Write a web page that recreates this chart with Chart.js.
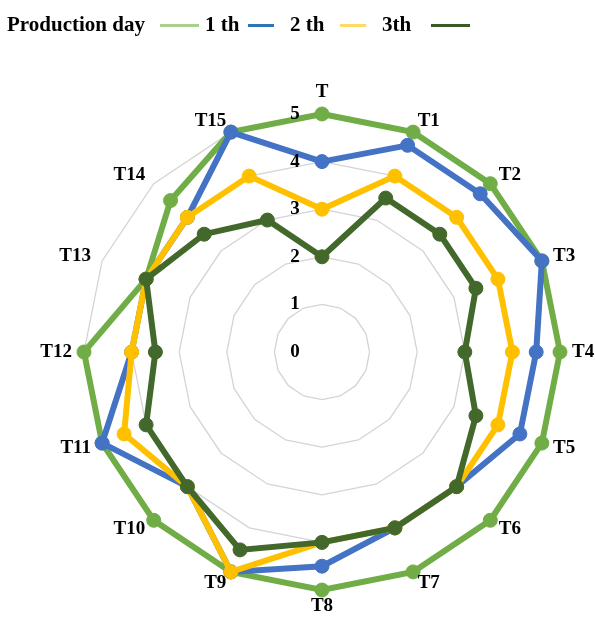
<!DOCTYPE html>
<html>
<head>
<meta charset="utf-8">
<script src="https://cdn.jsdelivr.net/npm/chart.js@4/dist/chart.umd.min.js"></script>
<style>
  body { margin: 0; background: #fff; }
  #wrap { position: relative; width: 595px; height: 620px; }
  #legend { position: absolute; top: 0; left: 0; width: 595px; height: 50px;
            font: bold 21px "Liberation Serif", "Times New Roman", serif; color: #000; }
  #legend span { position: absolute; top: 12px; white-space: nowrap; }
  #legend i { position: absolute; top: 24px; height: 3px; }
  canvas { position: absolute; top: 0; left: 0; }
</style>
</head>
<body>
<div id="wrap">
  <canvas id="radar" width="595" height="620"></canvas>
  <div id="legend"></div>
</div>
<script>
const categories = ["T", "T1", "T2", "T3", "T4", "T5", "T6", "T7", "T8", "T9", "T10", "T11", "T12", "T13", "T14", "T15"];
const seriesNames = ["1 th", "2 th", "3th", ""];
const day1 = [5, 5, 5, 5, 5, 5, 5, 5, 5, 5, 5, 5, 5, 4, 4.5, 5];
const day2 = [4, 4.7, 4.7, 5, 4.5, 4.5, 4, 4, 4.5, 5, 4, 5, 4, 4, 4, 5];
const day3 = [3, 4, 4, 4, 4, 4, 4, 4, 4, 5, 4, 4.5, 4, 4, 4, 4];
const day4 = [2, 3.5, 3.5, 3.5, 3, 3.5, 4, 4, 4, 4.5, 4, 4, 3.5, 4, 3.5, 3];
const tickValues = [0, 1, 2, 3, 4, 5];

const lineColors = ["#70AD47", "#4472C4", "#FFC000", "#43682B"];
const legendColors = ["#A9D18E", "#2E75B6", "#FFD966", "#3B5B26"];

// legend: title text, then swatch + name for each series
const legend = document.getElementById("legend");
const title = document.createElement("span");
title.textContent = "Production day";
title.style.left = "7px";
legend.appendChild(title);
const swatchX = [160, 248, 340, 431];
const swatchW = [39, 26, 26, 39];
const nameX = [205, 290, 382];
seriesNames.forEach((name, i) => {
    const sw = document.createElement("i");
    sw.style.left = swatchX[i] + "px";
    sw.style.width = swatchW[i] + "px";
    sw.style.background = legendColors[i];
    legend.appendChild(sw);
    if (name) {
        const t = document.createElement("span");
        t.textContent = name;
        t.style.left = nameX[i] + "px";
        legend.appendChild(t);
    }
});

const font = "Liberation Serif";

// tick numbers left of the vertical axis (0 included), and category
// labels placed the way Excel does: left/right aligned, vertically centred
const radarText = {
    id: "radarText",
    afterDatasetsDraw(chart) {
        const scale = chart.scales.r;
        const ctx = chart.ctx;
        const R = scale.drawingArea;
        ctx.save();
        ctx.font = "bold 19px '" + font + "'";
        ctx.fillStyle = "#000";
        ctx.textBaseline = "middle";
        ctx.textAlign = "center";
        tickValues.forEach(v => {
            const d = scale.getDistanceFromCenterForValue(v);
            ctx.fillText(String(v), scale.xCenter - 27, scale.yCenter - d);
        });
        const n = categories.length;
        categories.forEach((lab, i) => {
            let d = R + 12;
            if (i === 0) d = R + 22;
            if (i === n / 2) d = R + 16;
            const p = scale.getPointPosition(i, d);
            const dx = p.x - scale.xCenter;
            ctx.textAlign = Math.abs(dx) < 1 ? "center" : (dx > 0 ? "left" : "right");
            ctx.fillText(lab, p.x, p.y);
        });
        ctx.restore();
    }
};

const sets = [day1, day2, day3, day4].map((data, i) => ({
    label: seriesNames[i],
    data: data,
    borderColor: lineColors[i],
    backgroundColor: lineColors[i],
    pointBackgroundColor: lineColors[i],
    pointBorderColor: lineColors[i],
    borderWidth: 6,
    pointRadius: 7,
    pointBorderWidth: 1,
    fill: false,
    clip: false,
    order: 4 - i
}));

new Chart(document.getElementById("radar").getContext("2d"), {
    type: "radar",
    data: { labels: categories, datasets: sets },
    options: {
        responsive: false,
        animation: false,
        layout: { padding: { top: 114, bottom: 30, left: 84, right: 35 } },
        plugins: { legend: { display: false }, tooltip: { enabled: false } },
        scales: {
            r: {
                min: 0,
                max: 5,
                ticks: { display: false, stepSize: 1 },
                grid: { color: "#D4D4D4", lineWidth: 1.3, circular: false },
                angleLines: { display: false },
                pointLabels: { display: false }
            }
        }
    },
    plugins: [radarText]
});
</script>
</body>
</html>
